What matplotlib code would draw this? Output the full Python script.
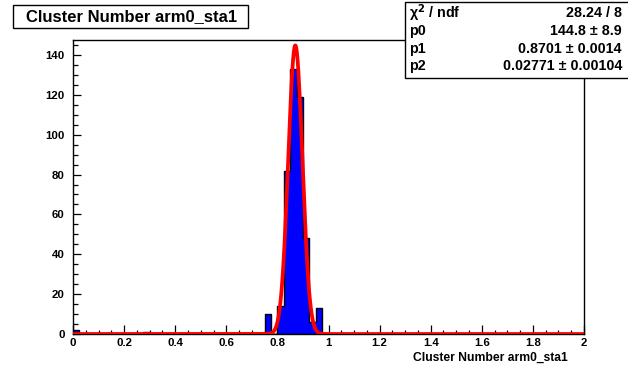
import numpy as np
import matplotlib
matplotlib.use("Agg")
import matplotlib.pyplot as plt
from matplotlib.ticker import MultipleLocator
from matplotlib.patches import Rectangle

# ---- data ----
bin_width = 0.025
x_min, x_max = 0.0, 2.0
bin_lo = [0.000, 0.275, 0.750, 0.800, 0.825, 0.850, 0.875, 0.900, 0.925, 0.950]
counts = [2, 1, 10, 14, 82, 133, 119, 48, 6, 13]

# gaus fit result shown in the stats box
chi2, ndf = 28.24, 8
p0, p0_err = 144.8, 8.9
p1, p1_err = 0.8701, 0.0014
p2, p2_err = 0.02771, 0.00104

title = "Cluster Number arm0_sta1"
x_label = "Cluster Number arm0_sta1"

plt.rcParams['font.family'] = ['Liberation Sans', 'DejaVu Sans']
plt.rcParams['font.weight'] = 'bold'

# build the full 80-bin histogram
edges = np.linspace(x_min, x_max, int(round((x_max - x_min) / bin_width)) + 1)
hist = np.zeros(len(edges) - 1)
for lo, c in zip(bin_lo, counts):
    hist[int(round((lo - x_min) / bin_width))] = c

fig = plt.figure(figsize=(6.28, 3.67), dpi=100)
ax = fig.add_axes([73 / 628, 1 - 334 / 367, (584 - 73) / 628, (334 - 40) / 367])

ax.stairs(hist, edges, fill=True, color='#0000ff', zorder=2)
ax.stairs(hist, edges, baseline=0, color='black', lw=1.0, zorder=3)
ax.plot([x_min, x_max], [0, 0], color='black', lw=1.0, zorder=3)

xf = np.linspace(x_min, x_max, 2000)
yf = p0 * np.exp(-0.5 * ((xf - p1) / p2) ** 2)
ax.plot(xf, yf, color='#ff0000', lw=2.7, zorder=4, solid_joinstyle='round')

ax.set_xlim(x_min, x_max)
ax.set_ylim(0, 147.5)
ax.xaxis.set_major_locator(MultipleLocator(0.2))
ax.xaxis.set_minor_locator(MultipleLocator(0.05))
ax.yaxis.set_major_locator(MultipleLocator(20))
ax.yaxis.set_minor_locator(MultipleLocator(5))
ax.xaxis.set_major_formatter(plt.FuncFormatter(lambda v, p: f"{v:g}"))

ax.tick_params(axis='both', which='both', direction='in', top=False, right=False,
               labelsize=8.2, width=0.9)
ax.tick_params(axis='x', which='major', length=6.5, pad=3)
ax.tick_params(axis='x', which='minor', length=3)
ax.tick_params(axis='y', which='major', length=6, pad=6)
ax.tick_params(axis='y', which='minor', length=3.5)
for s in ax.spines.values():
    s.set_linewidth(1.0)

fig.text(568 / 628, 1 - 358 / 367, x_label, ha='right', va='center',
         fontsize=8.7, fontweight='bold')

# title box
fig.patches.append(Rectangle((13 / 628, 1 - 28 / 367), 235 / 628, 23 / 367,
                             transform=fig.transFigure, facecolor='white',
                             edgecolor='black', lw=1.0, zorder=5))
fig.text(132 / 628, 1 - 16.5 / 367, title, ha='center', va='center',
         fontsize=12, fontweight='bold', zorder=6)

# stats box
fig.patches.append(Rectangle((405 / 628, 1 - 78 / 367), 240 / 628, 76 / 367,
                             transform=fig.transFigure, facecolor='white',
                             edgecolor='black', lw=1.0, zorder=5))
rows = [
    ("χ$^2$ / ndf", f"{chi2:.2f} / {ndf}"),
    ("p0", f"{p0:.1f} ± {p0_err:.1f}"),
    ("p1", f"{p1:.4f} ± {p1_err:.4f}"),
    ("p2", f"{p2:.5f} ± {p2_err:.5f}"),
]
row_y = [13, 31, 49, 66]
for (name, val), yy in zip(rows, row_y):
    fig.text(409 / 628, 1 - yy / 367, name, ha='left', va='center',
             fontsize=10.3, fontweight='bold', zorder=6)
    fig.text(622 / 628, 1 - yy / 367, val, ha='right', va='center',
             fontsize=10.3, fontweight='bold', zorder=6)

fig.savefig("out.png", dpi=100)
